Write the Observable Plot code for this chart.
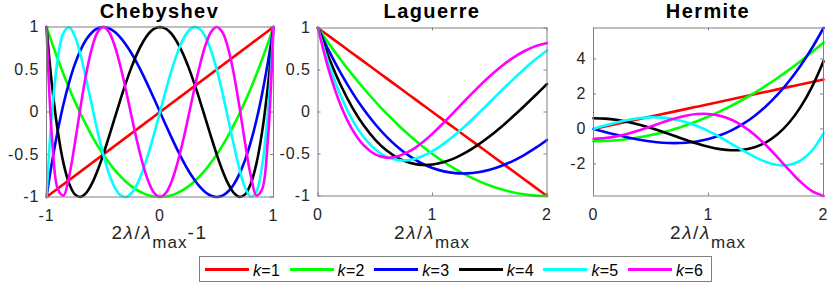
<!DOCTYPE html>
<html><head><meta charset="utf-8">
<script src="https://cdn.jsdelivr.net/npm/d3@7"></script>
<script src="https://cdn.jsdelivr.net/npm/@observablehq/plot@0.6"></script>
<style>
html,body{margin:0;padding:0;background:#fff;}
#root{position:relative;width:831px;height:287px;overflow:hidden;font-family:"Liberation Sans",Arial,Helvetica,sans-serif;color:#000;}
.panel{position:absolute;top:0;}
.panel svg text{letter-spacing:1px;}
.title{position:absolute;font-weight:bold;font-size:20px;letter-spacing:1.4px;white-space:nowrap;transform:translateX(-50%);line-height:20px;color:#000;}
.xlabel{position:absolute;font-size:19px;white-space:nowrap;transform:translateX(-50%);line-height:19px;color:#262626;letter-spacing:1.6px;}
.xlabel sub{font-size:17px;vertical-align:-9px;line-height:0;letter-spacing:1px;}
#legend{position:absolute;left:199px;top:256px;width:513px;height:26px;border:1px solid #808080;box-sizing:border-box;background:#fff;}
.lg-line{position:absolute;width:44px;height:3px;}
.lg-text{position:absolute;font-size:16px;line-height:16px;white-space:nowrap;color:#000;letter-spacing:0.3px;}
</style>
</head><body>
<div id="root"></div>
<script>
// ---- categories / styles ----
const ks = [1, 2, 3, 4, 5, 6];
const colors = ["#ff0000", "#00ff00", "#0000ff", "#000000", "#00ffff", "#ff00ff"];
const titles = ["Chebyshev", "Laguerre", "Hermite"];

// ---- Chebyshev panel (x = 2λ/λmax - 1) ----
const chebX = [-1, -0.975, -0.95, -0.9, -0.85, -0.8, -0.75, -0.7, -0.65, -0.6, -0.55, -0.5, -0.45, -0.4, -0.35, -0.3, -0.25, -0.2, -0.15, -0.1, -0.05, 0, 0.05, 0.1, 0.15, 0.2, 0.25, 0.3, 0.35, 0.4, 0.45, 0.5, 0.55, 0.6, 0.65, 0.7, 0.75, 0.8, 0.85, 0.9, 0.95, 0.975, 1];
const chebK1 = [-1, -0.975, -0.95, -0.9, -0.85, -0.8, -0.75, -0.7, -0.65, -0.6, -0.55, -0.5, -0.45, -0.4, -0.35, -0.3, -0.25, -0.2, -0.15, -0.1, -0.05, 0, 0.05, 0.1, 0.15, 0.2, 0.25, 0.3, 0.35, 0.4, 0.45, 0.5, 0.55, 0.6, 0.65, 0.7, 0.75, 0.8, 0.85, 0.9, 0.95, 0.975, 1];
const chebK2 = [1, 0.901, 0.805, 0.62, 0.445, 0.28, 0.125, -0.02, -0.155, -0.28, -0.395, -0.5, -0.595, -0.68, -0.755, -0.82, -0.875, -0.92, -0.955, -0.98, -0.995, -1, -0.995, -0.98, -0.955, -0.92, -0.875, -0.82, -0.755, -0.68, -0.595, -0.5, -0.395, -0.28, -0.155, -0.02, 0.125, 0.28, 0.445, 0.62, 0.805, 0.901, 1];
const chebK3 = [-1, -0.782, -0.58, -0.216, 0.094, 0.352, 0.563, 0.728, 0.852, 0.936, 0.985, 1, 0.986, 0.944, 0.879, 0.792, 0.688, 0.568, 0.437, 0.296, 0.15, 0, -0.15, -0.296, -0.437, -0.568, -0.688, -0.792, -0.879, -0.944, -0.986, -1, -0.985, -0.936, -0.852, -0.728, -0.563, -0.352, -0.094, 0.216, 0.58, 0.782, 1];
const chebK4 = [1, 0.625, 0.296, -0.231, -0.604, -0.843, -0.969, -0.999, -0.952, -0.843, -0.688, -0.5, -0.292, -0.075, 0.14, 0.345, 0.531, 0.693, 0.824, 0.921, 0.98, 1, 0.98, 0.921, 0.824, 0.693, 0.531, 0.345, 0.14, -0.075, -0.292, -0.5, -0.688, -0.843, -0.952, -0.999, -0.969, -0.843, -0.604, -0.231, 0.296, 0.625, 1];
const chebK5 = [-1, -0.435, 0.017, 0.632, 0.933, 0.997, 0.891, 0.671, 0.386, 0.076, -0.228, -0.5, -0.723, -0.884, -0.977, -0.999, -0.953, -0.845, -0.684, -0.48, -0.248, 0, 0.248, 0.48, 0.684, 0.845, 0.953, 0.999, 0.977, 0.884, 0.723, 0.5, 0.228, -0.076, -0.386, -0.671, -0.891, -0.997, -0.933, -0.632, -0.017, 0.435, 1];
const chebK6 = [1, 0.224, -0.328, -0.907, -0.983, -0.752, -0.367, 0.06, 0.45, 0.752, 0.938, 1, 0.942, 0.782, 0.544, 0.255, -0.055, -0.355, -0.619, -0.825, -0.955, -1, -0.955, -0.825, -0.619, -0.355, -0.055, 0.255, 0.544, 0.782, 0.942, 1, 0.938, 0.752, 0.45, 0.06, -0.367, -0.752, -0.983, -0.907, -0.328, 0.224, 1];

// ---- Laguerre panel (x = 2λ/λmax) ----
const lagX = [0, 0.1, 0.2, 0.3, 0.4, 0.5, 0.6, 0.7, 0.8, 0.9, 1, 1.1, 1.2, 1.3, 1.4, 1.5, 1.6, 1.7, 1.8, 1.9, 2];
const lagK1 = [1, 0.9, 0.8, 0.7, 0.6, 0.5, 0.4, 0.3, 0.2, 0.1, 0, -0.1, -0.2, -0.3, -0.4, -0.5, -0.6, -0.7, -0.8, -0.9, -1];
const lagK2 = [1, 0.805, 0.62, 0.445, 0.28, 0.125, -0.02, -0.155, -0.28, -0.395, -0.5, -0.595, -0.68, -0.755, -0.82, -0.875, -0.92, -0.955, -0.98, -0.995, -1];
const lagK3 = [1, 0.715, 0.459, 0.231, 0.029, -0.146, -0.296, -0.422, -0.525, -0.607, -0.667, -0.707, -0.728, -0.731, -0.717, -0.688, -0.643, -0.584, -0.512, -0.428, -0.333];
const lagK4 = [1, 0.629, 0.315, 0.052, -0.162, -0.331, -0.459, -0.549, -0.604, -0.629, -0.625, -0.596, -0.546, -0.476, -0.389, -0.289, -0.178, -0.057, 0.069, 0.2, 0.333];
const lagK5 = [1, 0.548, 0.187, -0.093, -0.301, -0.446, -0.534, -0.573, -0.571, -0.533, -0.467, -0.377, -0.269, -0.148, -0.018, 0.116, 0.251, 0.383, 0.51, 0.627, 0.733];
const lagK6 = [1, 0.472, 0.074, -0.21, -0.398, -0.504, -0.543, -0.527, -0.467, -0.374, -0.257, -0.125, 0.016, 0.158, 0.296, 0.425, 0.542, 0.642, 0.723, 0.784, 0.822];

// ---- Hermite panel (x = 2λ/λmax) ----
const herX = [0, 0.1, 0.2, 0.3, 0.4, 0.5, 0.6, 0.7, 0.8, 0.9, 1, 1.1, 1.2, 1.3, 1.4, 1.5, 1.6, 1.7, 1.8, 1.9, 2];
const herK1 = [0, 0.141, 0.283, 0.424, 0.566, 0.707, 0.849, 0.99, 1.131, 1.273, 1.414, 1.556, 1.697, 1.838, 1.98, 2.121, 2.263, 2.404, 2.546, 2.687, 2.828];
const herK2 = [-0.707, -0.693, -0.651, -0.58, -0.481, -0.354, -0.198, -0.014, 0.198, 0.438, 0.707, 1.004, 1.329, 1.683, 2.065, 2.475, 2.913, 3.38, 3.875, 4.398, 4.95];
const herK3 = [0, -0.172, -0.337, -0.488, -0.619, -0.722, -0.79, -0.816, -0.794, -0.717, -0.577, -0.368, -0.083, 0.285, 0.744, 1.299, 1.958, 2.729, 3.617, 4.629, 5.774];
const herK4 = [0.612, 0.588, 0.516, 0.399, 0.241, 0.051, -0.164, -0.392, -0.621, -0.836, -1.021, -1.156, -1.222, -1.195, -1.052, -0.765, -0.307, 0.353, 1.247, 2.41, 3.878];
const herK5 = [0, 0.191, 0.367, 0.512, 0.615, 0.662, 0.644, 0.557, 0.396, 0.166, -0.129, -0.475, -0.853, -1.238, -1.597, -1.888, -2.063, -2.061, -1.815, -1.244, -0.258];
const herK6 = [-0.559, -0.526, -0.428, -0.275, -0.078, 0.144, 0.373, 0.583, 0.75, 0.849, 0.857, 0.754, 0.524, 0.162, -0.33, -0.936, -1.625, -2.345, -3.025, -3.565, -3.839];

// ---- tick labels / domains ----
const chebXTicks = [-1, 0, 1];
const chebYTicks = [-1, -0.5, 0, 0.5, 1];
const lagXTicks = [0, 1, 2];
const lagYTicks = [-1, -0.5, 0, 0.5, 1];
const herXTicks = [0, 1, 2];
const herYTicks = [-2, 0, 2, 4];

const root = document.getElementById("root");
const FONT = '"Liberation Sans", Arial, Helvetica, sans-serif';
const AX = "#808080";

function makePanel(cfg) {
  const {xs, series, xDomain, yDomain, xTicks, yTicks, left, width, height, mL, mR, mT, mB} = cfg;
  const fw = width - mL - mR, fh = height - mT - mB;
  const tx = 3 / fw * (xDomain[1] - xDomain[0]);
  const ty = 3 / fh * (yDomain[1] - yDomain[0]);
  const lines = series.map((ys, i) =>
    Plot.line(ys.map((y, j) => ({x: xs[j], y})), {
      x: "x", y: "y", stroke: colors[i], strokeWidth: 2.6, curve: "catmull-rom",
      strokeLinejoin: "round", strokeLinecap: "round"
    }));
  const plot = Plot.plot({
    width, height,
    marginLeft: mL, marginRight: mR, marginTop: mT, marginBottom: mB,
    style: {fontFamily: FONT, fontSize: "16px", background: "transparent", overflow: "visible"},
    x: {domain: xDomain},
    y: {domain: yDomain},
    marks: [
      Plot.ruleX(xTicks, {x: d => d, y1: yDomain[0], y2: yDomain[0] + ty, stroke: AX}),
      Plot.ruleX(xTicks, {x: d => d, y1: yDomain[1] - ty, y2: yDomain[1], stroke: AX}),
      Plot.ruleY(yTicks, {y: d => d, x1: xDomain[0], x2: xDomain[0] + tx, stroke: AX}),
      Plot.ruleY(yTicks, {y: d => d, x1: xDomain[1] - tx, x2: xDomain[1], stroke: AX}),
      Plot.axisX({ticks: xTicks, tickSize: 0, tickPadding: 13, tickFormat: d => String(d), label: null,
        fontSize: 16, fontFamily: FONT, fill: "#262626"}),
      Plot.axisY({ticks: yTicks, tickSize: 0, tickPadding: 7, tickFormat: d => String(d), label: null,
        fontSize: 16, fontFamily: FONT, fill: "#262626"}),
      ...lines,
      Plot.frame({stroke: AX, strokeWidth: 1})
    ]
  });
  const wrap = document.createElement("div");
  wrap.className = "panel";
  wrap.style.left = left + "px";
  wrap.appendChild(plot);
  root.appendChild(wrap);
  return left + mL + fw / 2;
}

const H = 230;
const c1 = makePanel({xs: chebX, series: [chebK1, chebK2, chebK3, chebK4, chebK5, chebK6],
  xDomain: [-1, 1], yDomain: [-1, 1], xTicks: chebXTicks, yTicks: chebYTicks,
  left: 0, width: 290, height: H, mL: 46, mR: 17, mT: 26.5, mB: H - 196.5});
const c2 = makePanel({xs: lagX, series: [lagK1, lagK2, lagK3, lagK4, lagK5, lagK6],
  xDomain: [0, 2], yDomain: [-1, 1], xTicks: lagXTicks, yTicks: lagYTicks,
  left: 280, width: 290, height: H, mL: 37.5, mR: 23.5, mT: 27.5, mB: H - 195.5});
const c3 = makePanel({xs: herX, series: [herK1, herK2, herK3, herK4, herK5, herK6],
  xDomain: [0, 2], yDomain: [-3.839, 5.774], xTicks: herXTicks, yTicks: herYTicks,
  left: 555, width: 276, height: H, mL: 38, mR: 8, mT: 27.5, mB: H - 195.5});

const centers = [c1, c2, c3];
const labels = ['2<i>λ</i>/<i>λ</i><sub>max</sub>-1', '2<i>λ</i>/<i>λ</i><sub>max</sub>', '2<i>λ</i>/<i>λ</i><sub>max</sub>'];
titles.forEach((t, i) => {
  const d = document.createElement("div");
  d.className = "title";
  d.style.left = centers[i] + "px";
  d.style.top = "1px";
  d.textContent = t;
  root.appendChild(d);
  const l = document.createElement("div");
  l.className = "xlabel";
  l.style.left = centers[i] + "px";
  l.style.top = "222.5px";
  l.innerHTML = labels[i];
  root.appendChild(l);
});

// legend
const lg = document.createElement("div");
lg.id = "legend";
ks.forEach((k, i) => {
  const x0 = 5 + i * 84.6;
  const ln = document.createElement("div");
  ln.className = "lg-line";
  ln.style.left = x0 + "px";
  ln.style.top = "10.5px";
  ln.style.background = colors[i];
  lg.appendChild(ln);
  const tx = document.createElement("div");
  tx.className = "lg-text";
  tx.style.left = (x0 + 48) + "px";
  tx.style.top = "6px";
  tx.innerHTML = '<i>k</i>=' + k;
  lg.appendChild(tx);
});
root.appendChild(lg);
</script>
</body></html>
